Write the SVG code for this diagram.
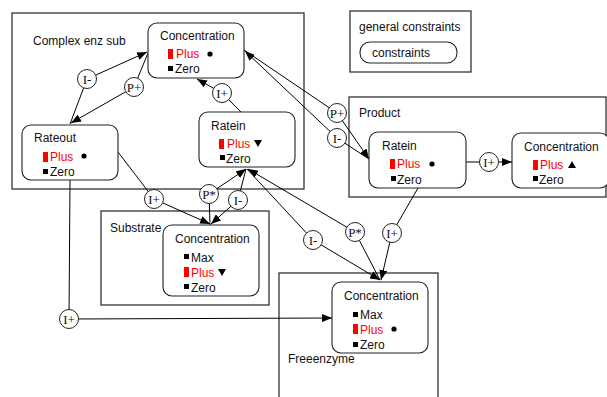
<svg xmlns="http://www.w3.org/2000/svg" width="607" height="397" viewBox="0 0 607 397">
<defs>
<marker id="arr" markerUnits="userSpaceOnUse" markerWidth="10" markerHeight="8" refX="10" refY="4" orient="auto"><path d="M0,0 L10,4 L0,8 z" fill="#000"/></marker>
<style>
.box{fill:#fff;stroke:#333;stroke-width:1.3}
.node{fill:#fff;stroke:#222;stroke-width:1.1}
.t{font-family:"Liberation Sans",Arial,sans-serif;font-size:12px;fill:#111}
.r{font-family:"Liberation Sans",Arial,sans-serif;font-size:12px;fill:#f00}
.c{fill:#fff;stroke:#222;stroke-width:1}
.ct{font-family:"Liberation Serif","Times New Roman",serif;font-size:13px;fill:#111;text-anchor:middle}
.ln{fill:none;stroke:#000;stroke-width:1;marker-end:url(#arr)}
.bar{fill:#f00}
.sq{fill:#000}
</style>
</defs>
<rect width="607" height="397" fill="#fff"/>

<g id="containers">
<rect class="box" x="12" y="13" width="292" height="176"/>
<text class="t" x="33" y="45">Complex enz sub</text>
<rect class="box" x="350" y="11" width="121" height="61"/>
<text class="t" x="359" y="31">general constraints</text>
<rect class="box" x="349" y="97" width="257" height="100"/>
<text class="t" x="359" y="117">Product</text>
<rect class="box" x="101" y="211" width="168" height="94"/>
<text class="t" x="110" y="232">Substrate</text>
<rect class="box" x="279" y="273" width="159" height="130"/>
<text class="t" x="288" y="363">Freeenzyme</text>
</g>

<g id="constraints">
<rect class="node" x="360" y="42" width="97" height="21" rx="10"/>
<text class="t" x="372" y="57">constraints</text>
</g>

<g id="connectors">
<polyline class="ln" points="70,124 87,79 147,52"/>
<polyline class="ln" points="148,53 134,87 71,123"/>
<polyline class="ln" points="241,112 222,93 197,79"/>
<polyline class="ln" points="118,152 154,199 210,224"/>
<polyline class="ln" points="246,169 238,200 211,224"/>
<polyline class="ln" points="210,225 209,194 246,169"/>
<polyline class="ln" points="380,280 355,232 248,169"/>
<polyline class="ln" points="247,169 313,240 380,280"/>
<polyline class="ln" points="418,188 392,233 381,280"/>
<polyline class="ln" points="70,180 69,319 332,318"/>
<polyline class="ln" points="244,50 337,113 369,159"/>
<polyline class="ln" points="369,159 337,138 245,51"/>
<polyline class="ln" points="466,162 489,162 512,162"/>
</g>

<g id="labels">
<circle class="c" cx="87" cy="79" r="9.5"/><text class="ct" x="87" y="83.5">I-</text>
<circle class="c" cx="134" cy="87" r="9.5"/><text class="ct" x="134" y="91.5">P+</text>
<circle class="c" cx="222" cy="93" r="9.5"/><text class="ct" x="222" y="97.5">I+</text>
<circle class="c" cx="154" cy="199" r="9.5"/><text class="ct" x="154" y="203.5">I+</text>
<circle class="c" cx="209" cy="194" r="9.5"/><text class="ct" x="209" y="198.5">P*</text>
<circle class="c" cx="238" cy="200" r="9.5"/><text class="ct" x="238" y="204.5">I-</text>
<circle class="c" cx="313" cy="240" r="9.5"/><text class="ct" x="313" y="244.5">I-</text>
<circle class="c" cx="355" cy="232" r="9.5"/><text class="ct" x="355" y="236.5">P*</text>
<circle class="c" cx="392" cy="233" r="9.5"/><text class="ct" x="392" y="237.5">I+</text>
<circle class="c" cx="69" cy="319" r="9.5"/><text class="ct" x="69" y="323.5">I+</text>
<circle class="c" cx="337" cy="113" r="9.5"/><text class="ct" x="337" y="117.5">P+</text>
<circle class="c" cx="337" cy="138" r="9.5"/><text class="ct" x="337" y="142.5">I-</text>
<circle class="c" cx="489" cy="162" r="9.5"/><text class="ct" x="489" y="166.5">I+</text>
</g>

<g id="complex-concentration">
<rect class="node" x="148" y="23" width="96" height="55" rx="9"/>
<text class="t" x="160" y="40">Concentration</text>
<rect class="bar" x="168" y="49" width="5" height="10"/>
<text class="r" x="176" y="58">Plus</text>
<circle cx="210" cy="54" r="2.6"/>
<rect class="sq" x="168" y="66" width="5" height="5"/>
<text class="t" x="175" y="73">Zero</text>
</g>

<g id="complex-rateout">
<rect class="node" x="22" y="125" width="96" height="55" rx="9"/>
<text class="t" x="34" y="142">Rateout</text>
<rect class="bar" x="43" y="152" width="5" height="10"/>
<text class="r" x="50" y="161">Plus</text>
<circle cx="84" cy="156" r="2.6"/>
<rect class="sq" x="43" y="169" width="5" height="5"/>
<text class="t" x="50" y="176">Zero</text>
</g>

<g id="complex-ratein">
<rect class="node" x="199" y="112" width="96" height="55" rx="9"/>
<text class="t" x="211" y="130">Ratein</text>
<rect class="bar" x="219" y="139" width="5" height="10"/>
<text class="r" x="227" y="148">Plus</text>
<path d="M254,140 L262,140 L258,147 z" fill="#000"/>
<rect class="sq" x="220" y="155" width="5" height="5"/>
<text class="t" x="226" y="163">Zero</text>
</g>

<g id="product-ratein">
<rect class="node" x="369" y="132" width="97" height="56" rx="9"/>
<text class="t" x="382" y="150">Ratein</text>
<rect class="bar" x="390" y="159" width="5" height="10"/>
<text class="r" x="397" y="168">Plus</text>
<circle cx="432" cy="164" r="2.6"/>
<rect class="sq" x="391" y="176" width="5" height="5"/>
<text class="t" x="397" y="184">Zero</text>
</g>

<g id="product-concentration">
<rect class="node" x="512" y="133" width="97" height="55" rx="9"/>
<text class="t" x="524" y="151">Concentration</text>
<rect class="bar" x="533" y="160" width="5" height="10"/>
<text class="r" x="540" y="169">Plus</text>
<path d="M568,168 L576,168 L572,161 z" fill="#000"/>
<rect class="sq" x="533" y="176" width="5" height="5"/>
<text class="t" x="539" y="184">Zero</text>
</g>

<g id="substrate-concentration">
<rect class="node" x="163" y="225" width="96" height="71" rx="9"/>
<text class="t" x="175" y="243">Concentration</text>
<rect class="sq" x="184" y="254" width="5" height="5"/>
<text class="t" x="191" y="262">Max</text>
<rect class="bar" x="184" y="267" width="5" height="10"/>
<text class="r" x="191" y="277">Plus</text>
<path d="M218,269 L226,269 L222,276 z" fill="#000"/>
<rect class="sq" x="184" y="284" width="5" height="5"/>
<text class="t" x="191" y="292">Zero</text>
</g>

<g id="freeenzyme-concentration">
<rect class="node" x="332" y="282" width="96" height="71" rx="9"/>
<text class="t" x="344" y="300">Concentration</text>
<rect class="sq" x="353" y="312" width="5" height="5"/>
<text class="t" x="360" y="319">Max</text>
<rect class="bar" x="353" y="324" width="5" height="10"/>
<text class="r" x="360" y="334">Plus</text>
<circle cx="394" cy="329" r="2.6"/>
<rect class="sq" x="353" y="342" width="5" height="5"/>
<text class="t" x="360" y="349">Zero</text>
</g>
</svg>
